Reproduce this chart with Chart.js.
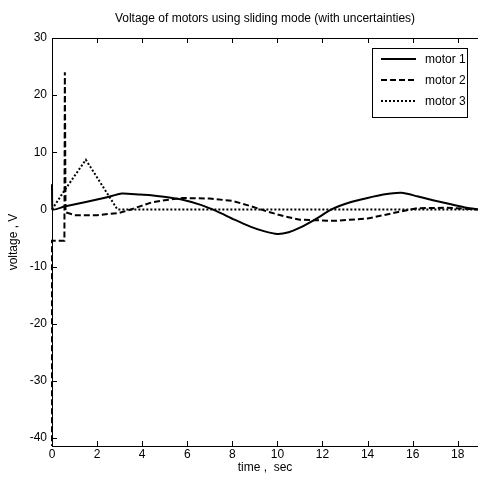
<!DOCTYPE html>
<html>
<head>
<meta charset="utf-8">
<script src="https://cdn.jsdelivr.net/npm/chart.js@4.4.0/dist/chart.umd.min.js"></script>
<style>
  html, body { margin: 0; padding: 0; background: #fff; }
  #wrap { width: 478px; height: 478px; }
</style>
</head>
<body>
<div id="wrap"><canvas id="chart" width="478" height="478"></canvas></div>
<script>
const xTicks = [0, 2, 4, 6, 8, 10, 12, 14, 16, 18];
const yTicks = [-40, -30, -20, -10, 0, 10, 20, 30];

const t1 = [0, 0.02, 0.55, 1.5, 2.4, 3.1, 3.9, 4.4, 5.2, 5.8, 6.6, 7.3, 8.1, 8.8, 9.4, 10, 10.5, 11, 11.7, 12.4, 13.2, 14, 14.7, 15.5, 16.2, 16.9, 17.7, 18.4, 18.9];
const motor1 = [4.4, 0, 0.5, 1.3, 2.1, 2.8, 2.6, 2.5, 2.1, 1.7, 0.8, -0.3, -1.8, -3.0, -3.8, -4.3, -4.0, -3.2, -1.7, 0, 1.2, 2.0, 2.6, 2.9, 2.3, 1.6, 0.9, 0.3, 0];

const t2 = [0, 0, 0.55, 0.57, 0.6, 1, 2, 3, 3.5, 4.4, 5, 5.8, 7, 8, 8.8, 9.5, 10.3, 11, 12.5, 14, 15.3, 16.2, 17.5, 18.9];
const motor2 = [-50, -5.5, -5.5, 24, -0.5, -1, -1, -0.6, 0, 1.2, 1.6, 2.0, 1.9, 1.5, 0.6, -0.3, -1.2, -1.8, -2.0, -1.6, -0.5, 0.2, 0.3, 0];

const t3 = [0, 0.55, 1.5, 2.9, 18.9];
const motor3 = [0, 3.3, 8.7, 0, 0];

const labels = ['motor 1', 'motor 2', 'motor 3'];
const dashes = [[], [6, 3], [2, 2]];

function pts(ts, vs) {
  return ts.map((t, i) => ({ x: t, y: vs[i] }));
}

const font = "'Liberation Sans', Arial, sans-serif";
const clip = { left: 2, top: 0, right: 0, bottom: 0 };

// frame, inward ticks, texts and legend box
const decor = {
  id: 'decor',
  afterDraw(chart) {
    const ctx = chart.ctx;
    const a = chart.chartArea;
    const xs = chart.scales.x, ys = chart.scales.y;
    ctx.save();
    ctx.strokeStyle = '#000';
    ctx.lineWidth = 1;
    ctx.beginPath();
    ctx.moveTo(a.left + 0.5, a.bottom + 0.5);
    ctx.lineTo(a.left + 0.5, a.top + 0.5);
    ctx.lineTo(a.right, a.top + 0.5);
    ctx.moveTo(a.left, a.bottom + 0.5);
    ctx.lineTo(a.right, a.bottom + 0.5);
    xTicks.forEach(v => {
      const px = Math.round(xs.getPixelForValue(v)) + 0.5;
      ctx.moveTo(px, a.bottom); ctx.lineTo(px, a.bottom - 5);
      ctx.moveTo(px, a.top); ctx.lineTo(px, a.top + 5);
    });
    yTicks.forEach(v => {
      const py = Math.round(ys.getPixelForValue(v)) + 0.5;
      ctx.moveTo(a.left, py); ctx.lineTo(a.left + 5, py);
    });
    ctx.stroke();

    ctx.fillStyle = '#000';
    ctx.font = '12px ' + font;
    ctx.textAlign = 'center';
    ctx.textBaseline = 'middle';
    ctx.fillText('Voltage of motors using sliding mode (with uncertainties)', (a.left + a.right) / 2, 19);
    ctx.fillText('time ,  sec', (a.left + a.right) / 2, 468);
    ctx.save();
    ctx.translate(14, (a.top + a.bottom) / 2);
    ctx.rotate(-Math.PI / 2);
    ctx.fillText('voltage , V', 0, 0);
    ctx.restore();

    // legend
    const lx = 372, ly = 48, lw = 95, lh = 69;
    ctx.fillStyle = '#fff';
    ctx.fillRect(lx, ly, lw, lh);
    ctx.strokeRect(lx + 0.5, ly + 0.5, lw, lh);
    ctx.font = '12px ' + font;
    ctx.textAlign = 'left';
    labels.forEach((lab, i) => {
      const y = ly + 11 + i * 21;
      ctx.lineWidth = 2;
      ctx.setLineDash(dashes[i]);
      ctx.beginPath();
      ctx.moveTo(lx + 9, y); ctx.lineTo(lx + 44, y);
      ctx.stroke();
      ctx.setLineDash([]);
      ctx.fillStyle = '#000';
      ctx.fillText(lab, lx + 53, y + 1);
    });
    ctx.restore();
  }
};

new Chart(document.getElementById('chart'), {
  type: 'line',
  data: {
    datasets: [
      { label: labels[0], data: pts(t1, motor1), borderColor: '#000', borderWidth: 2, borderDash: dashes[0], pointRadius: 0, tension: 0.2, clip: clip },
      { label: labels[1], data: pts(t2, motor2), borderColor: '#000', borderWidth: 2, borderDash: dashes[1], pointRadius: 0, tension: 0, clip: clip },
      { label: labels[2], data: pts(t3, motor3), borderColor: '#000', borderWidth: 2, borderDash: dashes[2], pointRadius: 0, tension: 0, clip: clip }
    ]
  },
  options: {
    responsive: false,
    animation: false,
    layout: { padding: { top: 38, left: 0, right: 0, bottom: 0 } },
    plugins: { legend: { display: false }, tooltip: { enabled: false } },
    scales: {
      x: {
        type: 'linear', min: 0, max: 18.9,
        afterBuildTicks: s => { s.ticks = xTicks.map(v => ({ value: v })); },
        afterFit: s => { s.height = 32; },
        grid: { display: false, drawTicks: false },
        border: { display: false },
        ticks: { color: '#000', font: { size: 12, family: font }, padding: 1, maxRotation: 0 }
      },
      y: {
        type: 'linear', min: -41.4, max: 30,
        afterBuildTicks: s => { s.ticks = yTicks.map(v => ({ value: v })); },
        afterFit: s => { s.width = 52; },
        grid: { display: false, drawTicks: false },
        border: { display: false },
        ticks: { color: '#000', font: { size: 12, family: font }, padding: 5 }
      }
    }
  },
  plugins: [decor]
});
</script>
</body>
</html>
